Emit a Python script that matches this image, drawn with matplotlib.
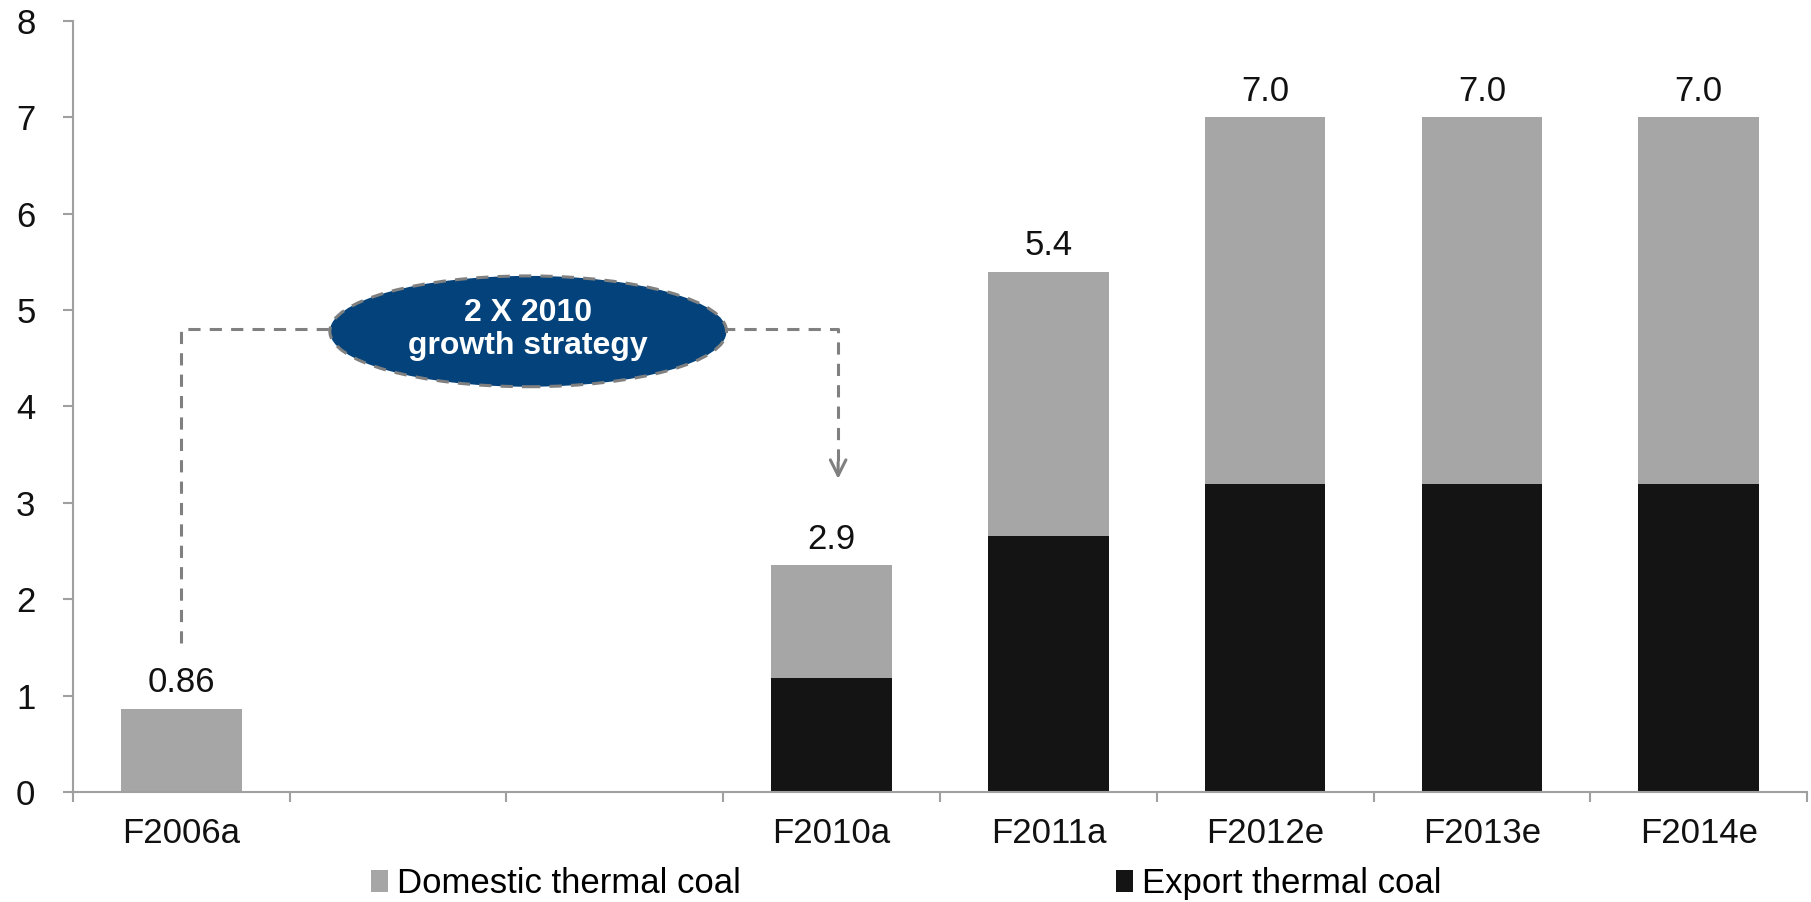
import numpy as np
import matplotlib.pyplot as plt
from matplotlib.patches import Ellipse

plt.rcParams['font.family'] = ['Liberation Sans', 'DejaVu Sans']

# data
years = ['F2006a', '', '', 'F2010a', 'F2011a', 'F2012e', 'F2013e', 'F2014e']
export = [0.0, 0.0, 0.0, 1.18, 2.66, 3.2, 3.2, 3.2]
domestic = [0.86, 0.0, 0.0, 1.17, 2.74, 3.8, 3.8, 3.8]
value_labels = ['0.86', '', '', '2.9', '5.4', '7.0', '7.0', '7.0']

grey = '#A6A6A6'
black = '#141414'
navy = '#03427A'
axcol = '#A0A0A0'

fig = plt.figure(figsize=(18.11, 9.02), dpi=100)
ax = fig.add_axes([0.0403, 0.122, 0.9575, 0.8547])

x = np.arange(len(years))
w = 0.555
b1 = ax.bar(x, export, w, color=black, label='Export thermal coal', zorder=2)
b2 = ax.bar(x, domestic, w, bottom=export, color=grey,
            label='Domestic thermal coal', zorder=2)

tops = np.array(export) + np.array(domestic)
for xi, t, lab in zip(x, tops, value_labels):
    if lab:
        ax.annotate(lab, (xi, t), xytext=(0, 7), textcoords='offset points',
                    ha='center', va='bottom', fontsize=25, color='#111111')

ax.set_xlim(-0.5, len(years) - 0.5)
ax.set_ylim(0, 8)
ax.set_yticks(range(0, 9))
ax.set_xticks(x)
ax.set_xticklabels(years)
ax.set_xticks(np.arange(-0.5, len(years)), minor=True)

for s in ['top', 'right']:
    ax.spines[s].set_visible(False)
for s in ['left', 'bottom']:
    ax.spines[s].set_color(axcol)
    ax.spines[s].set_linewidth(1.5)

ax.tick_params(axis='y', length=7, width=1.5, color=axcol, pad=20,
               labelsize=25, labelcolor='#111111')
ax.tick_params(axis='x', which='major', length=0, pad=18,
               labelsize=25, labelcolor='#111111')
ax.tick_params(axis='x', which='minor', length=7, width=1.5, color=axcol)

# growth strategy callout
dash = dict(color='#808080', lw=2.2, ls=(0, (4, 3)), zorder=3)
ax.plot([0, 0, 3.03, 3.03], [1.55, 4.8, 4.8, 3.3], **dash)
ax.annotate('', xy=(3.03, 3.22), xytext=(3.03, 3.45),
            arrowprops=dict(arrowstyle='->', color='#808080', lw=2.2,
                            mutation_scale=28), zorder=3)
ell = Ellipse((1.6, 4.78), 1.83, 1.15, facecolor=navy, edgecolor='#808080',
              lw=2.2, ls=(0, (4, 3)), zorder=4)
ax.add_patch(ell)
ax.text(1.6, 4.8, '2 X 2010\ngrowth strategy', ha='center', va='center',
        fontsize=23, fontweight='bold', color='white', linespacing=1.1,
        zorder=5)

fig.legend([b2, b1], ['Domestic thermal coal', 'Export thermal coal'],
           loc='center left', bbox_to_anchor=(0.197, 0.02), ncol=2,
           frameon=False, fontsize=25, handlelength=0.5, handleheight=0.6,
           handletextpad=0.25, columnspacing=10.8, borderaxespad=0)

fig.savefig('out.png', dpi=100)
